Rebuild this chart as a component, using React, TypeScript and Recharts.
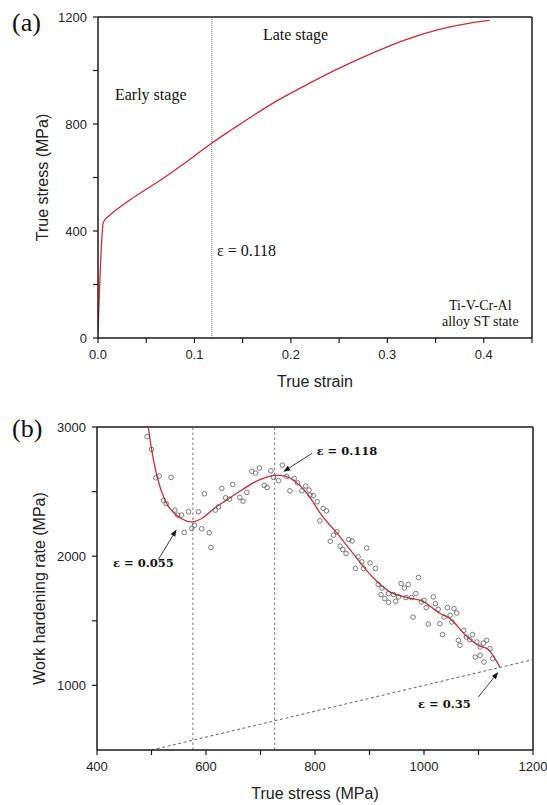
import React from 'react';
import { ComposedChart, Line, Scatter, XAxis, YAxis, ReferenceLine, ReferenceDot } from 'recharts';

// ---------- (a) true stress - true strain ----------
const strainA = [0, 0.0055, 0.0124, 0.02, 0.033, 0.0487, 0.07, 0.09, 0.1178, 0.14, 0.161, 0.1886, 0.2128, 0.247, 0.282, 0.3164, 0.351, 0.3855, 0.406];
const stressA = [20, 432, 460, 482, 516, 553, 603, 654, 728, 782, 832, 893, 940, 1003, 1061, 1112, 1151, 1177, 1187];
const xTicksA = [0, 0.05, 0.1, 0.15, 0.2, 0.25, 0.3, 0.35, 0.4, 0.45];
const yTicksA = [0, 200, 400, 600, 800, 1000, 1200];
const epsTransition = 0.118;

// ---------- (b) work hardening rate - true stress ----------
const fitStress = [494, 500, 510, 525, 540, 555, 574, 595, 615, 640, 665, 690, 710, 727, 745, 765, 790, 810, 840, 870, 906, 935, 968, 998, 1029, 1048, 1078, 1100, 1118, 1139];
const fitRate = [3000, 2830, 2620, 2430, 2340, 2290, 2266, 2300, 2370, 2440, 2510, 2575, 2610, 2628, 2620, 2575, 2460, 2330, 2180, 2020, 1837, 1730, 1682, 1651, 1558, 1517, 1380, 1310, 1277, 1142];
const ptStress = [492, 500, 508, 514, 536, 522, 527, 543, 548, 555, 568, 586, 597, 629, 649, 636, 662, 668, 617, 623, 560, 574, 579, 592, 606, 609,
  643, 675, 684, 691, 698, 707, 712, 719, 724, 733,
  740, 748, 754, 762, 768, 776, 783, 789, 791, 797, 804, 815, 821, 809, 840, 834, 828, 846, 851, 857, 862, 868, 895, 879, 886, 901, 874, 889, 911,
  916, 923, 935, 944, 921, 928, 935, 948, 953, 958, 964, 971, 990, 967, 977, 985, 995, 1000, 1004, 980, 1008, 1017, 1021, 1026, 1029, 1034, 1037, 1043, 1048, 1051, 1055, 1060, 1063, 1066, 1073, 1078, 1089, 1084, 1097, 1103, 1109, 1115, 1121, 1094, 1103, 1110, 1126];
const ptRate = [2925, 2827, 2607, 2620, 2610, 2432, 2406, 2357, 2318, 2318, 2344, 2344, 2483, 2525, 2556, 2452, 2455, 2426, 2357, 2382, 2184, 2215, 2240, 2212, 2181, 2067,
  2442, 2494, 2657, 2643, 2682, 2548, 2532, 2661, 2610, 2585,
  2705, 2618, 2506, 2602, 2568, 2506, 2543, 2512, 2473, 2470, 2421, 2370, 2351, 2274, 2188, 2163, 2116, 2078, 2052, 2021, 2129, 2118, 2064, 1995, 1956, 1948, 1905, 1905, 1905,
  1781, 1754, 1711, 1703, 1703, 1672, 1643, 1651, 1685, 1788, 1754, 1781, 1835, 1680, 1680, 1711, 1646, 1659, 1602, 1529, 1475, 1685, 1633, 1589, 1478, 1393, 1529, 1602, 1543, 1491, 1594, 1560, 1349, 1310, 1426, 1374, 1393, 1354, 1336, 1297, 1328, 1349, 1285, 1219, 1233, 1181, 1207];
const diagStress = [500, 1200];
const diagRate = [500, 1200];
const xTicksB = [400, 500, 600, 700, 800, 900, 1000, 1100, 1200];
const yTicksB = [1000, 1500, 2000, 2500, 3000];
const stressAtEarly = 576;
const stressAtPeak = 726;

const curveA = strainA.map((s, i) => ({ strain: s, stress: stressA[i] }));
const fitData = fitStress.map((s, i) => ({ s, r: fitRate[i] }));
const ptData = ptStress.map((s, i) => ({ s, r: ptRate[i] }));
const diagData = diagStress.map((s, i) => ({ s, r: diagRate[i] }));

const SANS = 'Liberation Sans, Arial, Helvetica, sans-serif';
const SERIF = 'Liberation Serif, Times New Roman, serif';
const AXIS = '#1a1a1a';
const RED = '#d42a2f';

const isMult = (v: number, m: number) => Math.abs(v / m - Math.round(v / m)) < 1e-6;

const makeXTick = (major: number, fmt: (v: number) => string) => (p: any) => {
  const { x, y, payload } = p;
  if (!isMult(payload.value, major)) return <g />;
  return (
    <text x={x} y={y} dy="0.71em" textAnchor="middle" fontSize={13} fontFamily={SANS} fill="#222">
      {fmt(payload.value)}
    </text>
  );
};
const makeYTick = (major: number) => (p: any) => {
  const { x, y, payload } = p;
  if (!isMult(payload.value, major)) return <g />;
  return (
    <text x={x} y={y} dy="0.35em" textAnchor="end" fontSize={13} fontFamily={SANS} fill="#222">
      {String(payload.value)}
    </text>
  );
};

const xTitle = (text: string, dy: number) => (p: any) => {
  const vb = p.viewBox || {};
  return (
    <text x={vb.x + vb.width / 2} y={vb.y + dy} textAnchor="middle" fontSize={16} fontFamily={SANS} fill="#222">
      {text}
    </text>
  );
};
const yTitle = (text: string, cx: number) => (p: any) => {
  const vb = p.viewBox || {};
  const cy = vb.y + vb.height / 2;
  return (
    <text x={cx} y={cy} dy="0.35em" textAnchor="middle" fontSize={16} fontFamily={SANS} fill="#222" transform={`rotate(-90, ${cx}, ${cy})`}>
      {text}
    </text>
  );
};

const textAt = (text: string, opts: { size?: number; anchor?: string; bold?: boolean; family?: string }) => (p: any) => (
  <text
    x={p.cx}
    y={p.cy}
    fontSize={opts.size ?? 16}
    textAnchor={(opts.anchor as any) ?? 'start'}
    fontFamily={opts.family ?? SERIF}
    fontWeight={opts.bold ? 'bold' : 'normal'}
    fill="#111"
  >
    {text}
  </text>
);

const arrowShape = (p: any) => {
  const { x1, y1, x2, y2 } = p;
  const ang = Math.atan2(y2 - y1, x2 - x1);
  const L = 7;
  const W = 2.6;
  const bx = x2 - L * Math.cos(ang);
  const by = y2 - L * Math.sin(ang);
  const px = -Math.sin(ang) * W;
  const py = Math.cos(ang) * W;
  return (
    <g>
      <line x1={x1} y1={y1} x2={bx} y2={by} stroke="#222" strokeWidth={0.9} />
      <polygon points={`${x2},${y2} ${bx + px},${by + py} ${bx - px},${by - py}`} fill="#111" />
    </g>
  );
};

const circleShape = (p: any) => <circle cx={p.cx} cy={p.cy} r={2.3} fill="none" stroke="#5a5a5a" strokeWidth={0.8} />;

const boldEps = { size: 11.5, bold: true, family: 'DejaVu Serif, serif' };

export default function App() {
  return (
    <div style={{ position: 'absolute', left: 0, top: 0, width: 547, height: 805, background: '#fff' }}>
      <div style={{ position: 'absolute', left: 0, top: 0 }}>
        <ComposedChart width={547} height={400} data={curveA} margin={{ top: 17, right: 15, bottom: 0, left: 0 }}>
          <XAxis
            dataKey="strain"
            type="number"
            domain={[0, 0.45]}
            ticks={xTicksA}
            interval={0}
            allowDataOverflow
            height={62}
            tickSize={5}
            tickMargin={7}
            axisLine={{ stroke: AXIS, strokeWidth: 1.5 }}
            tickLine={{ stroke: AXIS, strokeWidth: 1.2 }}
            tick={makeXTick(0.1, (v) => v.toFixed(1))}
            label={{ content: xTitle('True strain', 49) } as any}
          />
          <YAxis
            type="number"
            domain={[0, 1200]}
            ticks={yTicksA}
            interval={0}
            allowDataOverflow
            width={98}
            tickSize={5}
            tickMargin={6}
            axisLine={{ stroke: AXIS, strokeWidth: 1.5 }}
            tickLine={{ stroke: AXIS, strokeWidth: 1.2 }}
            tick={makeYTick(400)}
            label={{ content: yTitle('True stress (MPa)', 42) } as any}
          />
          <ReferenceLine y={1200} stroke={AXIS} strokeWidth={1.5} />
          <ReferenceLine x={0.45} stroke={AXIS} strokeWidth={1.5} />
          <ReferenceLine x={epsTransition} stroke="#666" strokeWidth={0.9} strokeDasharray="1 1" />
          <Line dataKey="stress" type="monotone" stroke={RED} strokeWidth={1.3} dot={false} isAnimationActive={false} />
          <ReferenceDot x={0.0176} y={890} ifOverflow="visible" shape={textAt('Early stage', {})} />
          <ReferenceDot x={0.171} y={1114} ifOverflow="visible" shape={textAt('Late stage', {})} />
          <ReferenceDot x={0.1233} y={306} ifOverflow="visible" shape={textAt('ε = 0.118', {})} />
          <ReferenceDot x={0.3964} y={103} ifOverflow="visible" shape={textAt('Ti-V-Cr-Al', { size: 14, anchor: 'middle' })} />
          <ReferenceDot x={0.3964} y={43} ifOverflow="visible" shape={textAt('alloy ST state', { size: 14, anchor: 'middle' })} />
        </ComposedChart>
      </div>
      <div style={{ position: 'absolute', left: 0, top: 400 }}>
        <ComposedChart width={547} height={405} margin={{ top: 27, right: 14, bottom: 0, left: 0 }}>
          <XAxis
            dataKey="s"
            type="number"
            domain={[400, 1200]}
            ticks={xTicksB}
            interval={0}
            allowDataOverflow
            height={55}
            tickSize={5}
            tickMargin={7}
            axisLine={{ stroke: AXIS, strokeWidth: 1.5 }}
            tickLine={{ stroke: AXIS, strokeWidth: 1.2 }}
            tick={makeXTick(200, (v) => String(v))}
            label={{ content: xTitle('True stress (MPa)', 49) } as any}
          />
          <YAxis
            type="number"
            domain={[500, 3000]}
            ticks={yTicksB}
            interval={0}
            allowDataOverflow
            width={97}
            tickSize={5}
            tickMargin={6}
            axisLine={{ stroke: AXIS, strokeWidth: 1.5 }}
            tickLine={{ stroke: AXIS, strokeWidth: 1.2 }}
            tick={makeYTick(1000)}
            label={{ content: yTitle('Work hardening rate (MPa)', 39) } as any}
          />
          <ReferenceLine y={3000} stroke={AXIS} strokeWidth={1.5} />
          <ReferenceLine x={1200} stroke={AXIS} strokeWidth={1.5} />
          <ReferenceLine x={stressAtEarly} stroke="#666" strokeWidth={0.9} strokeDasharray="2.5 2.5" />
          <ReferenceLine x={stressAtPeak} stroke="#666" strokeWidth={0.9} strokeDasharray="2.5 2.5" />
          <Line data={diagData} dataKey="r" type="linear" stroke="#555" strokeWidth={0.9} strokeDasharray="3 2.5" dot={false} isAnimationActive={false} />
          <Scatter data={ptData} dataKey="r" shape={circleShape} isAnimationActive={false} />
          <Line data={fitData} dataKey="r" type="monotone" stroke={RED} strokeWidth={1.3} dot={false} isAnimationActive={false} />
          <ReferenceLine segment={[{ x: 512.5, y: 1974 }, { x: 546, y: 2207 }]} ifOverflow="visible" shape={arrowShape} />
          <ReferenceLine segment={[{ x: 794.5, y: 2796 }, { x: 741.8, y: 2654 }]} ifOverflow="visible" shape={arrowShape} />
          <ReferenceLine segment={[{ x: 1099.6, y: 909 }, { x: 1136.3, y: 1103 }]} ifOverflow="visible" shape={arrowShape} />
          <ReferenceDot x={429.4} y={1914} ifOverflow="visible" shape={textAt('ε = 0.055', boldEps)} />
          <ReferenceDot x={803} y={2783} ifOverflow="visible" shape={textAt('ε = 0.118', boldEps)} />
          <ReferenceDot x={989} y={824} ifOverflow="visible" shape={textAt('ε = 0.35', boldEps)} />
        </ComposedChart>
      </div>
      <svg width={547} height={805} style={{ position: 'absolute', left: 0, top: 0, pointerEvents: 'none' }}>
        <text x={12} y={31} fontSize={26} fontFamily={SERIF} fill="#111">(a)</text>
        <text x={12} y={437} fontSize={26} fontFamily={SERIF} fill="#111">(b)</text>
      </svg>
    </div>
  );
}
